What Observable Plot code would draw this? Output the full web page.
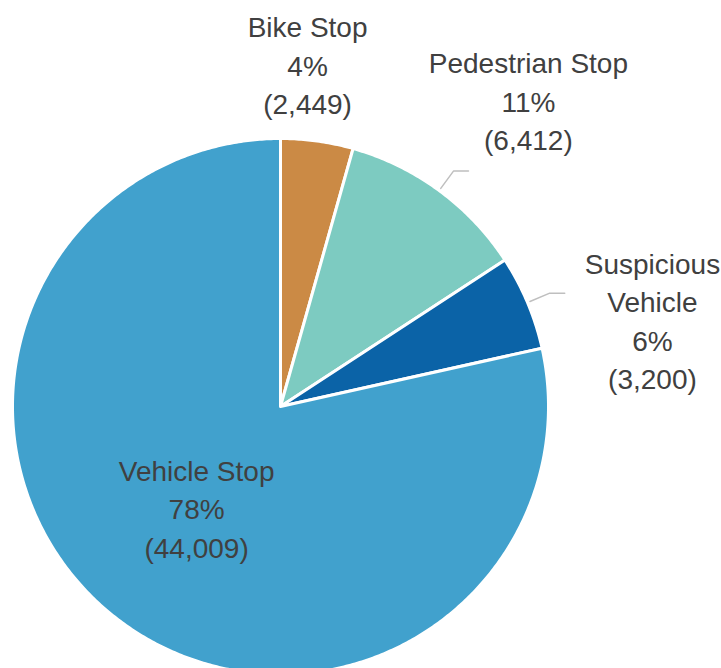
<!DOCTYPE html>
<html><head><meta charset="utf-8">
<script src="https://cdn.jsdelivr.net/npm/d3@7"></script>
<script src="https://cdn.jsdelivr.net/npm/@observablehq/plot@0.6"></script>
<style>html,body{margin:0;padding:0;background:#fff;overflow:hidden}</style>
</head><body><div id="chart"></div>
<script>
// ---- data ----
const categories = ["Bike Stop", "Pedestrian Stop", "Suspicious Vehicle", "Vehicle Stop"];
const counts = [2449, 6412, 3200, 44009];
const labelNames = ["Bike Stop", "Pedestrian Stop", "Suspicious\nVehicle", "Vehicle Stop"];
const colors = ["#CB8A45", "#7DCBC1", "#0B63A7", "#41A1CD"];
const hasLeader = [false, true, true, false];
// label placement (pie-radius units from centre, x right / y up)
const labelPlacement = [[0.101, 1.280], [0.925, 1.146], [1.388, 0.325], [-0.313, -0.375]];

// ---- layout ----
const W = 721, H = 668, cx = 280, cy = 406, R = 268;
const total = d3.sum(counts);
const fmt = d3.format(",");
let acc = 0;
const slices = categories.map((c, i) => {
  const a0 = acc / total * 2 * Math.PI;
  acc += counts[i];
  const a1 = acc / total * 2 * Math.PI;
  return {name: c, i, a0, a1, mid: (a0 + a1) / 2};
});
const pt = (a, r) => ({x: Math.sin(a) * r, y: Math.cos(a) * r});

const sliceMarks = slices.map(s => {
  const n = Math.max(2, Math.ceil((s.a1 - s.a0) / (Math.PI / 360)));
  const pts = [{x: 0, y: 0}];
  for (let k = 0; k <= n; k++) pts.push(pt(s.a0 + (s.a1 - s.a0) * k / n, 1));
  return Plot.line(pts, {x: "x", y: "y", fill: colors[s.i], stroke: "white", strokeWidth: 3,
    strokeLinejoin: "round", curve: "linear-closed", clip: true});
});

const leaderPts = [];
slices.forEach(s => {
  if (!hasLeader[s.i]) return;
  const p0 = pt(s.mid, 1.01), p1 = pt(s.mid, 1.09);
  leaderPts.push({name: s.name, ...p0}, {name: s.name, ...p1}, {name: s.name, x: p1.x + 15 / R, y: p1.y});
});

const labels = slices.map(s => ({
  x: labelPlacement[s.i][0], y: labelPlacement[s.i][1],
  text: `${labelNames[s.i]}\n${Math.round(counts[s.i] / total * 100)}%\n(${fmt(counts[s.i])})`
}));

const chart = Plot.plot({
  width: W, height: H,
  margin: 0,
  x: {domain: [-cx / R, (W - cx) / R], axis: null},
  y: {domain: [-(H - cy) / R, cy / R], axis: null},
  style: {background: "white"},
  marks: [
    ...sliceMarks,
    Plot.line(leaderPts, {x: "x", y: "y", z: "name", stroke: "#BFBFBF", strokeWidth: 1.5}),
    Plot.text(labels, {x: "x", y: "y", text: "text", fontSize: 28, lineHeight: 1.375,
      fill: "#404040", fontFamily: "'Liberation Sans', Arial, sans-serif",
      textAnchor: "middle", lineAnchor: "middle"})
  ]
});
document.getElementById("chart").appendChild(chart);
</script>
</body></html>
